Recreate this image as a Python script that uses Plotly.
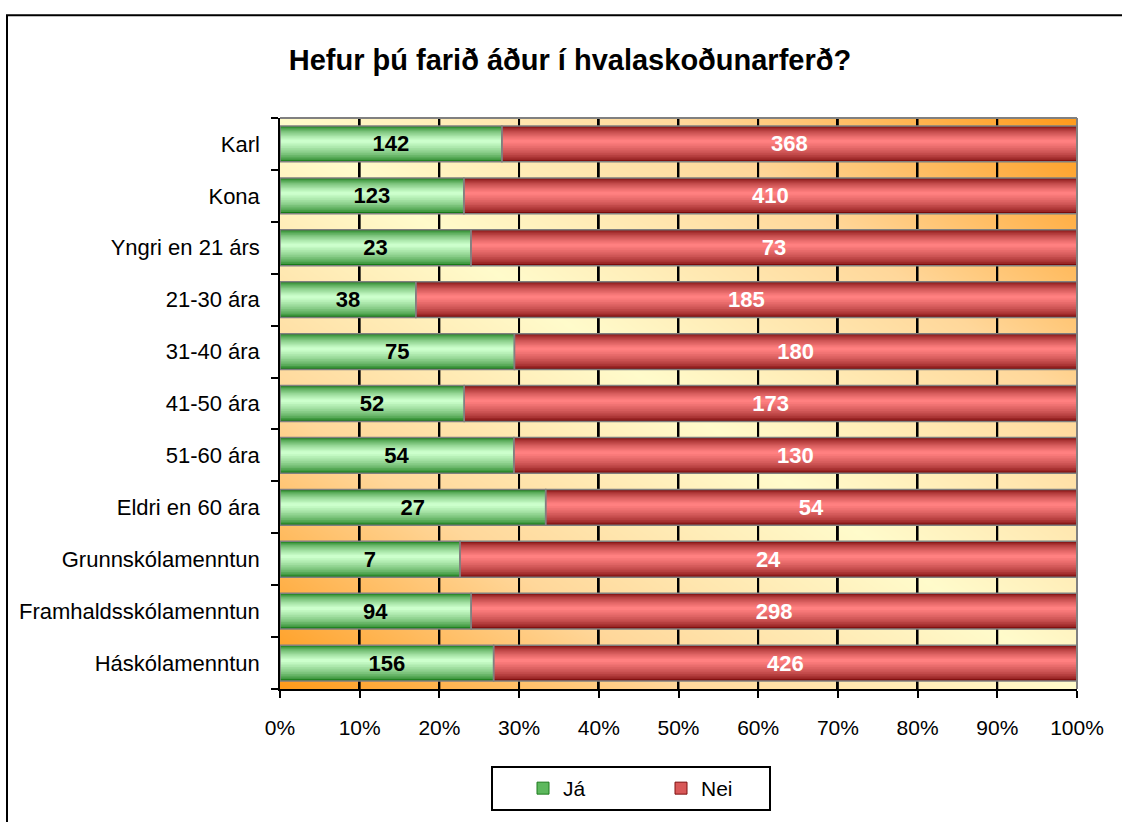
import numpy as np
import plotly.graph_objects as go

categories = ["Karl", "Kona", "Yngri en 21 árs", "21-30 ára", "31-40 ára", "41-50 ára",
              "51-60 ára", "Eldri en 60 ára", "Grunnskólamenntun",
              "Framhaldsskólamenntun", "Háskólamenntun"]
ja = [142, 123, 23, 38, 75, 52, 54, 27, 7, 94, 156]
nei = [368, 410, 73, 185, 180, 173, 130, 54, 24, 298, 426]
x_ticks = [0, 0.1, 0.2, 0.3, 0.4, 0.5, 0.6, 0.7, 0.8, 0.9, 1.0]

FONT = "Liberation Sans, Arial, sans-serif"
n = len(categories)
pos = list(range(n))
tot = [a + b for a, b in zip(ja, nei)]
ja_p = [a / t for a, t in zip(ja, tot)]
nei_p = [b / t for b, t in zip(nei, tot)]

fig = go.Figure()

# --- decorative diagonal gradient background ---
gx = np.linspace(0, 1, 81)
gy = np.linspace(-0.5, n - 0.5, 81)
U, V = np.meshgrid(gx, (gy + 0.5) / n)
Z = np.abs(U - V)
fig.add_trace(go.Heatmap(x=gx, y=gy, z=Z, zmin=0, zmax=1, zsmooth="best",
                         colorscale=[[0, "#FFFBCB"], [0.5, "#FFD79A"], [1, "#FF9A1A"]],
                         showscale=False, hoverinfo="skip"))

# --- vertical gridlines (thin vertical bars so they sit below the data bars) ---
grid_x = x_ticks[1:-1]
fig.add_trace(go.Bar(x=grid_x, y=[n] * len(grid_x), base=-0.5, orientation="v",
                     width=0.0024, marker=dict(color="black", line=dict(width=0)),
                     showlegend=False, hoverinfo="skip"))

# --- cylinder-like bars built from layered bars ---
W = 0.69
N = 12
a = 0.42


def mix(c1, c2, f):
    c1 = [int(c1[i:i + 2], 16) for i in (1, 3, 5)]
    c2 = [int(c2[i:i + 2], 16) for i in (1, 3, 5)]
    return "rgb(%d,%d,%d)" % tuple(round(p + (q - p) * f) for p, q in zip(c1, c2))


series = [
    ("Já", ja_p, [0] * n, "#177A17", "#CCFFCC"),
    ("Nei", nei_p, ja_p, "#7A0A0A", "#FF8080"),
]
for name, vals, base, edge, center in series:
    for k in range(N):
        f = (k / (N - 1)) ** 0.6
        wk = W * (1 - k / N)
        off = -W / 2 + a * (W - wk)
        fig.add_trace(go.Bar(y=pos, x=vals, base=base, orientation="h",
                             width=wk, offset=off,
                             marker=dict(color=mix(edge, center, f), line=dict(width=0)),
                             showlegend=False, hoverinfo="skip"))

# text + outline traces
fig.add_trace(go.Bar(y=pos, x=ja_p, base=[0] * n, orientation="h", width=W,
                     name="Já", text=ja, textposition="inside", insidetextanchor="middle",
                     constraintext="none",
                     textfont=dict(color="black", size=22, family=FONT, weight="bold"),
                     marker=dict(color="rgba(0,0,0,0)", line=dict(color="#808080", width=1.5)),
                     showlegend=False, hoverinfo="skip"))
fig.add_trace(go.Bar(y=pos, x=nei_p, base=ja_p, orientation="h", width=W,
                     name="Nei", text=nei, textposition="inside", insidetextanchor="middle",
                     constraintext="none",
                     textfont=dict(color="white", size=22, family=FONT, weight="bold"),
                     marker=dict(color="rgba(0,0,0,0)", line=dict(color="#808080", width=1.5)),
                     showlegend=False, hoverinfo="skip"))

# legend entries
fig.add_trace(go.Bar(y=[None], x=[None], orientation="h", name="Já",
                     marker=dict(color="#5DB85D", line=dict(color="#1E7B1E", width=1))))
fig.add_trace(go.Bar(y=[None], x=[None], orientation="h", name="Nei",
                     marker=dict(color="#D85858", line=dict(color="#7F1010", width=1))))

fig.update_layout(
    width=1122, height=822,
    barmode="overlay",
    paper_bgcolor="white", plot_bgcolor="#FFE8B0",
    margin=dict(l=280, r=45, t=118, b=132),
    font=dict(family=FONT, size=20, color="black"),
    title=dict(text="<b>Hefur þú farið áður í hvalaskoðunarferð?</b>",
               font=dict(size=29, family=FONT, color="black"),
               x=0.508, xref="container", xanchor="center",
               y=1 - 60 / 822, yref="container", yanchor="middle"),
    xaxis=dict(range=[0, 1], tickvals=x_ticks, tickformat=".0%", showgrid=False,
               zeroline=False, showline=True, linecolor="black", linewidth=1.5,
               ticks="outside", ticklen=7, tickwidth=1.5, tickcolor="black",
               ticklabelstandoff=12, tickfont=dict(size=21)),
    yaxis=dict(range=[n - 0.5, -0.5], tickvals=pos, ticktext=categories, showgrid=False,
               zeroline=False, showline=True, linecolor="black", linewidth=1.5,
               ticks="", ticklabelstandoff=14, tickfont=dict(size=22),
               minor=dict(tick0=-0.5, dtick=1, ticks="outside", ticklen=7,
                          tickwidth=1.5, tickcolor="black", showgrid=False)),
    legend=dict(orientation="h", x=(491 - 280) / 797, xanchor="left",
                y=(690 - 766) / 572, yanchor="top",
                bordercolor="black", borderwidth=2, bgcolor="white",
                font=dict(size=21), entrywidth=63, itemwidth=30, indentation=30,
                traceorder="normal"),
    shapes=[
        dict(type="line", xref="x domain", yref="y domain", x0=0, x1=1, y0=1, y1=1,
             line=dict(color="#808080", width=2), layer="above"),
        dict(type="line", xref="x domain", yref="y domain", x0=1, x1=1, y0=0, y1=1,
             line=dict(color="#808080", width=2), layer="above"),
        dict(type="rect", xref="paper", yref="paper",
             x0=(7 - 280) / 797, x1=(1130 - 280) / 797,
             y0=(690 - 840) / 572, y1=(690 - 15) / 572,
             line=dict(color="black", width=2), fillcolor="rgba(0,0,0,0)", layer="above"),
    ],
)

fig.write_html("out.html", config={"displayModeBar": False},
               post_script="document.body.style.margin='0px';")
